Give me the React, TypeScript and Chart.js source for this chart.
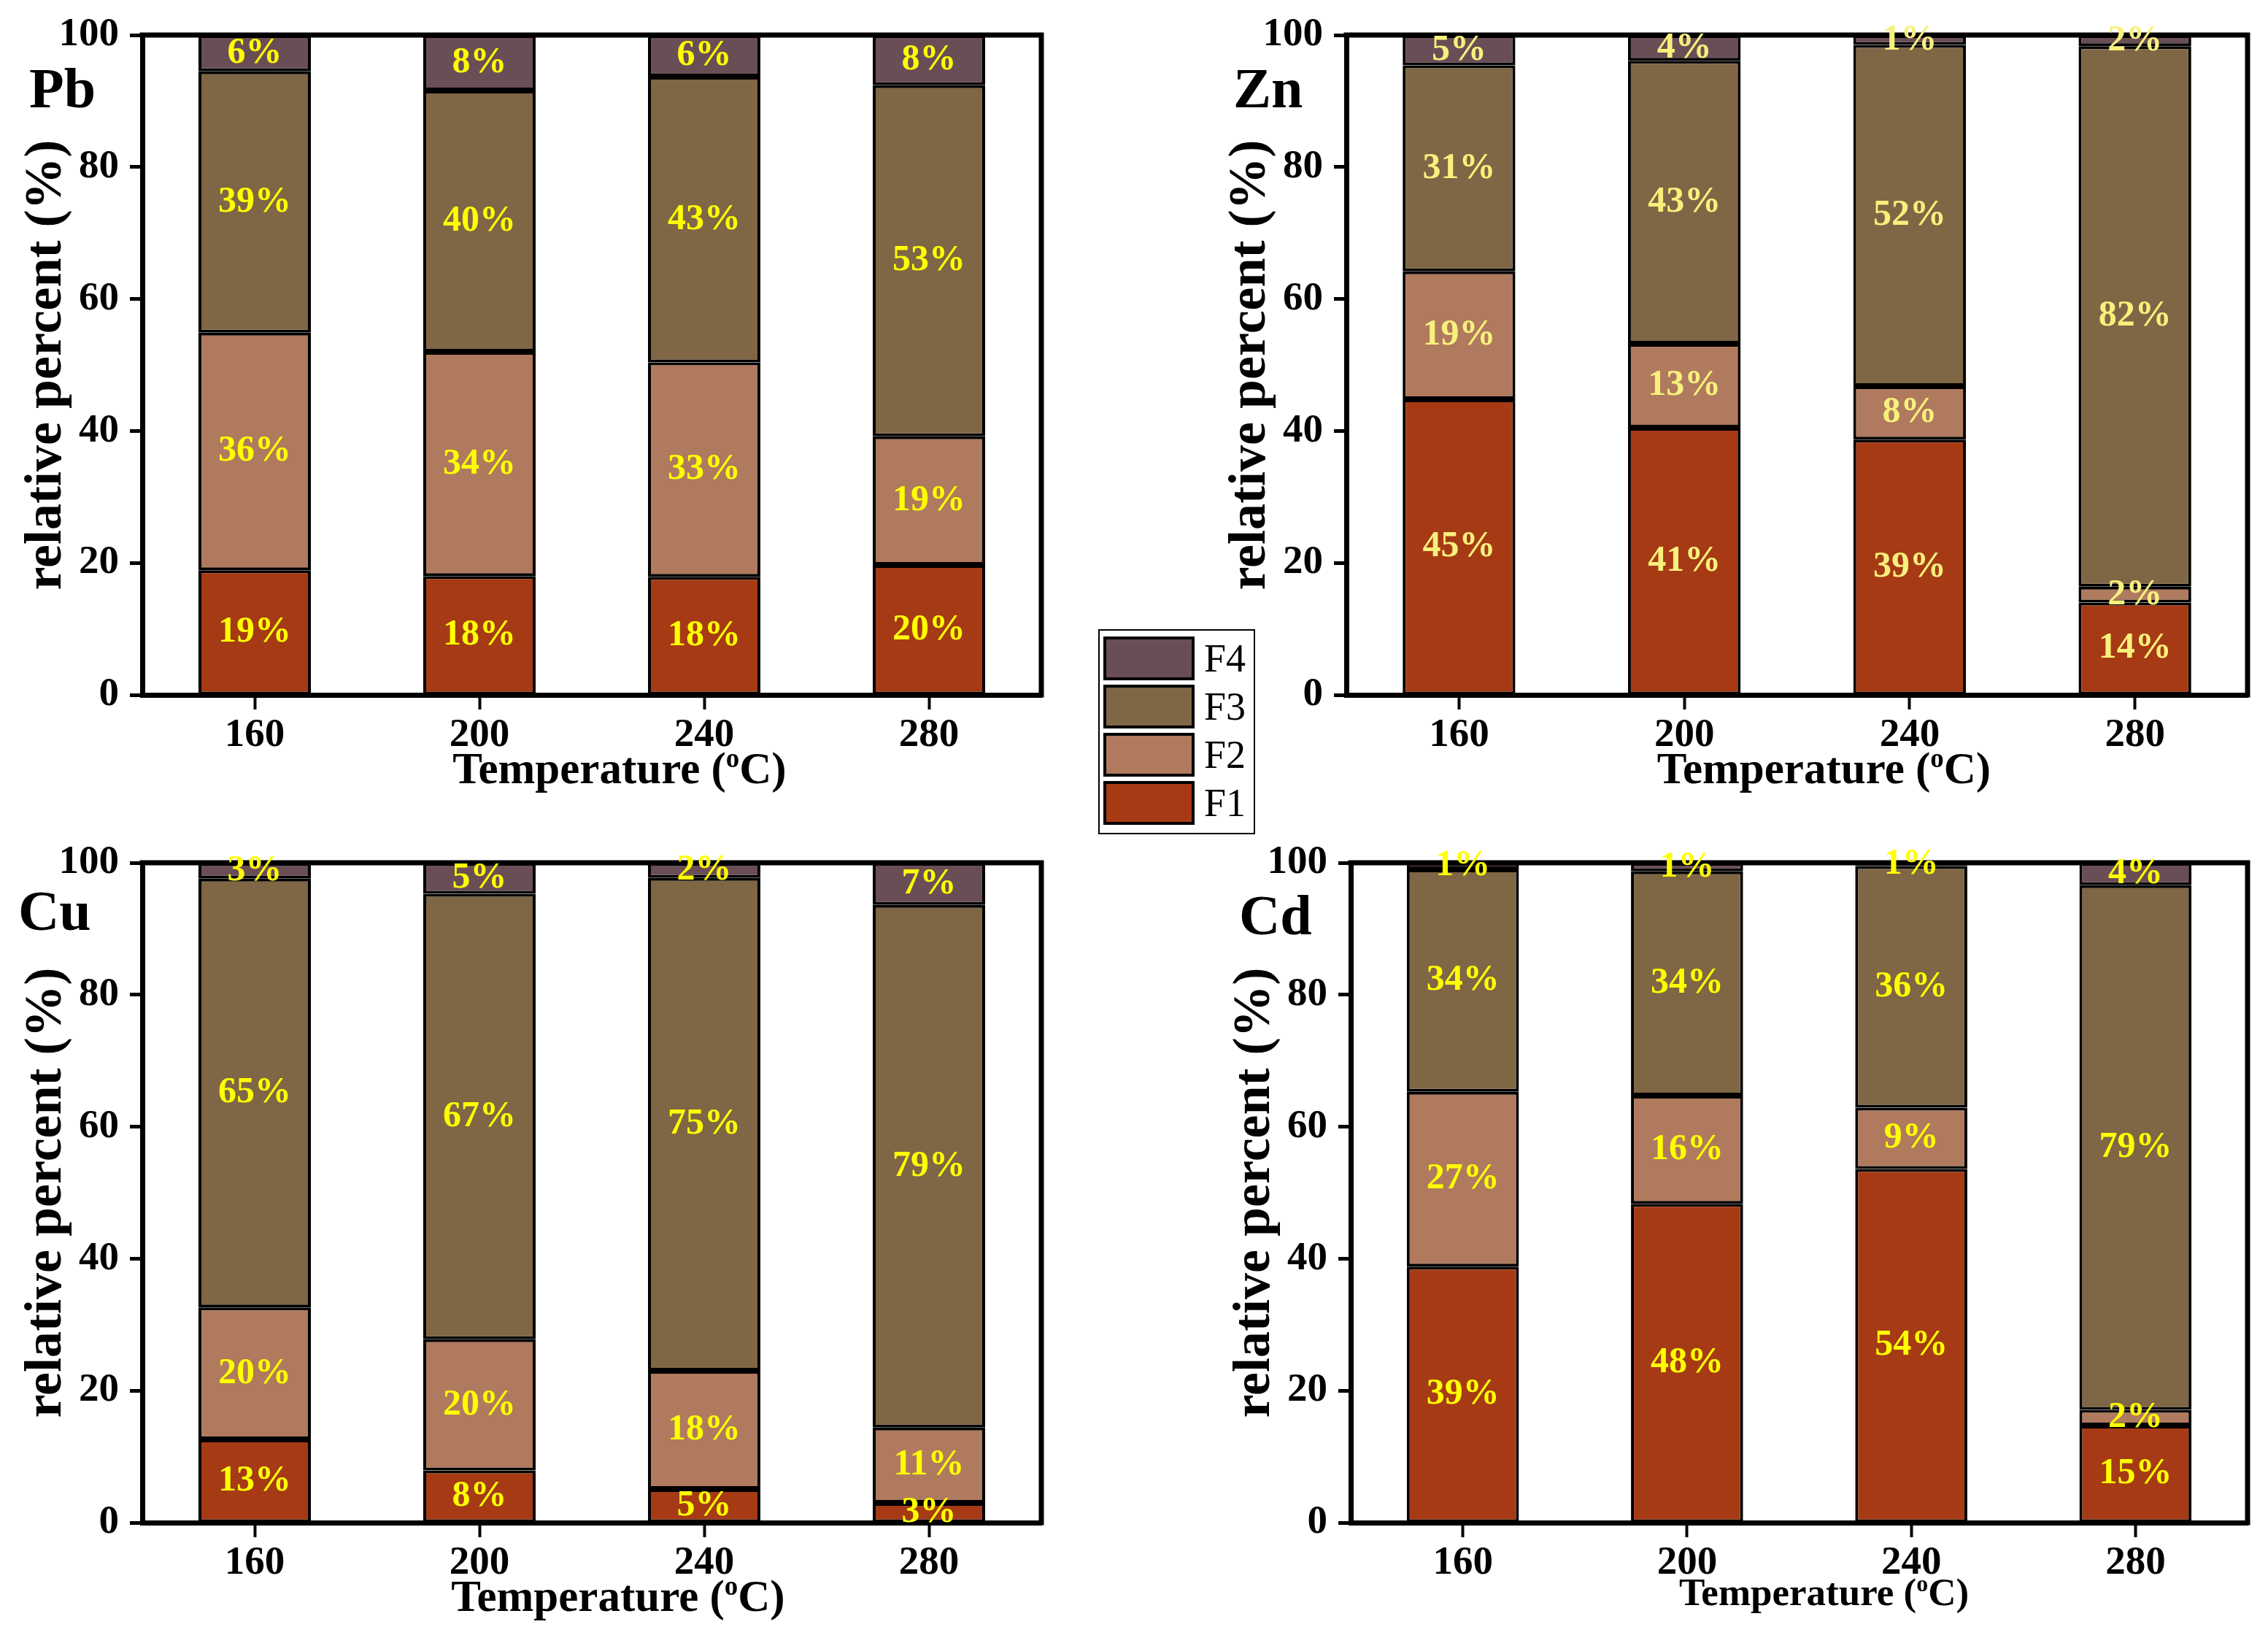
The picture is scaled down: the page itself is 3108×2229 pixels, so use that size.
import { useEffect, useRef } from "react";
import { Chart, registerables } from "chart.js";

Chart.register(...registerables);

const temperatures = ["160", "200", "240", "280"];
const fractionNames = ["F1", "F2", "F3", "F4"];
const fractionColors = ["#A63A15", "#B07A5E", "#7F6645", "#6A4E56"];

// Pb
const pbF1 = [18.9, 18.0, 17.9, 19.7];
const pbF2 = [36.0, 34.0, 32.5, 19.5];
const pbF3 = [39.6, 39.6, 43.3, 53.2];
const pbF4 = [5.5, 8.4, 6.3, 7.6];
const pbText = [
  ["19%", "18%", "18%", "20%"],
  ["36%", "34%", "33%", "19%"],
  ["39%", "40%", "43%", "53%"],
  ["6%", "8%", "6%", "8%"],
];

// Zn
const znF1 = [44.8, 40.5, 38.7, 14.0];
const znF2 = [19.4, 12.7, 8.1, 2.4];
const znF3 = [31.2, 42.9, 51.7, 81.9];
const znF4 = [4.6, 3.9, 1.5, 1.7];
const znText = [
  ["45%", "41%", "39%", "14%"],
  ["19%", "13%", "8%", "2%"],
  ["31%", "43%", "52%", "82%"],
  ["5%", "4%", "1%", "2%"],
];

// Cu
const cuF1 = [12.6, 7.9, 5.1, 3.0];
const cuF2 = [20.0, 19.9, 17.9, 11.4];
const cuF3 = [65.0, 67.5, 74.7, 79.2];
const cuF4 = [2.4, 4.7, 2.3, 6.4];
const cuText = [
  ["13%", "8%", "5%", "3%"],
  ["20%", "20%", "18%", "11%"],
  ["65%", "67%", "75%", "79%"],
  ["3%", "5%", "2%", "7%"],
];

// Cd
const cdF1 = [38.8, 48.3, 53.6, 14.7];
const cdF2 = [26.5, 16.4, 9.3, 2.4];
const cdF3 = [33.7, 34.0, 36.6, 79.5];
const cdF4 = [1.0, 1.3, 0.5, 3.4];
const cdText = [
  ["39%", "48%", "54%", "15%"],
  ["27%", "16%", "9%", "2%"],
  ["34%", "34%", "36%", "79%"],
  ["1%", "1%", "1%", "4%"],
];

const yTicks = [0, 20, 40, 60, 80, 100];

const SERIF = "'Liberation Serif', 'Times New Roman', serif";

type PanelDef = {
  name: string;
  series: number[][];
  texts: string[][];
  labelColor: string;
  left: number;
  top: number;
  width: number;
  height: number;
  padRight: number;
  tagDx: number;
  tagDy: number;
  xTitleSize: number;
  xTitleDx: number;
  xTitleDy: number;
};

const panels: PanelDef[] = [
  {
    name: "Pb", series: [pbF1, pbF2, pbF3, pbF4], texts: pbText, labelColor: "#FFFF00",
    left: 0, top: 0, width: 1477, height: 1094, padRight: 50,
    tagDx: -155, tagDy: 99, xTitleSize: 61, xTitleDx: 38, xTitleDy: 121,
  },
  {
    name: "Zn", series: [znF1, znF2, znF3, znF4], texts: znText, labelColor: "#F8F07C",
    left: 1650, top: 0, width: 1450, height: 1094, padRight: 20,
    tagDx: -155, tagDy: 99, xTitleSize: 61, xTitleDx: 37, xTitleDy: 121,
  },
  {
    name: "Cu", series: [cuF1, cuF2, cuF3, cuF4], texts: cuText, labelColor: "#FFFF00",
    left: 0, top: 1134, width: 1477, height: 1094, padRight: 50,
    tagDx: -170, tagDy: 92, xTitleSize: 61, xTitleDx: 36, xTitleDy: 121,
  },
  {
    name: "Cd", series: [cdF1, cdF2, cdF3, cdF4], texts: cdText, labelColor: "#FFFF00",
    left: 1656, top: 1134, width: 1444, height: 1094, padRight: 20,
    tagDx: -153, tagDy: 98, xTitleSize: 53, xTitleDx: 34, xTitleDy: 113,
  },
];

// black frame on the top and right of the plot area
const framePlugin = {
  id: "frame",
  afterDatasetsDraw(chart: any) {
    const { ctx, chartArea: a } = chart;
    ctx.save();
    ctx.strokeStyle = "#000";
    ctx.lineWidth = 7;
    ctx.lineCap = "square";
    ctx.beginPath();
    ctx.moveTo(a.left, a.top);
    ctx.lineTo(a.right, a.top);
    ctx.lineTo(a.right, a.bottom);
    ctx.stroke();
    ctx.restore();
  },
};

// percentage text in the middle of each stacked segment
const segLabelPlugin = {
  id: "segLabels",
  afterDraw(chart: any, _args: any, opts: any) {
    const { ctx } = chart;
    ctx.save();
    ctx.font = `bold 50px ${SERIF}`;
    ctx.fillStyle = opts.color;
    ctx.textAlign = "center";
    ctx.textBaseline = "middle";
    chart.data.datasets.forEach((_ds: any, i: number) => {
      const meta = chart.getDatasetMeta(i);
      meta.data.forEach((bar: any, j: number) => {
        const { x, y, base } = bar.getProps(["x", "y", "base"], true);
        ctx.fillText(opts.texts[i][j], x, (y + base) / 2);
      });
    });
    ctx.restore();
  },
};

// element name in the upper-left corner
const tagPlugin = {
  id: "tag",
  afterDraw(chart: any, _args: any, opts: any) {
    const { ctx, chartArea } = chart;
    ctx.save();
    ctx.font = `bold 78px ${SERIF}`;
    ctx.fillStyle = "#000";
    ctx.textAlign = "left";
    ctx.textBaseline = "alphabetic";
    ctx.fillText(opts.text, chartArea.left + opts.dx, chartArea.top + opts.dy);
    ctx.restore();
  },
};

// x-axis title "Temperature (oC)" with a raised small o
const xTitlePlugin = {
  id: "xTitle",
  afterDraw(chart: any, _args: any, opts: any) {
    const { ctx, chartArea: a } = chart;
    const size = opts.size;
    const main = `bold ${size}px ${SERIF}`;
    const sup = `bold ${Math.round(size * 0.6)}px ${SERIF}`;
    const parts = [
      { t: "Temperature (", f: main, rise: 0 },
      { t: "o", f: sup, rise: size * 0.36 },
      { t: "C)", f: main, rise: 0 },
    ];
    ctx.save();
    ctx.fillStyle = "#000";
    ctx.textAlign = "left";
    ctx.textBaseline = "alphabetic";
    const widths = parts.map((p) => {
      ctx.font = p.f;
      return ctx.measureText(p.t).width;
    });
    const total = widths.reduce((s, w) => s + w, 0);
    let x = (a.left + a.right) / 2 + opts.dx - total / 2;
    const y = a.bottom + opts.dy;
    parts.forEach((p, i) => {
      ctx.font = p.f;
      ctx.fillText(p.t, x, y - p.rise);
      x += widths[i];
    });
    ctx.restore();
  },
};

const Panel = ({ p }: { p: PanelDef }) => {
  const canvasRef = useRef<HTMLCanvasElement | null>(null);

  useEffect(() => {
    if (!canvasRef.current) return;
    const chart = new Chart(canvasRef.current, {
      type: "bar",
      data: {
        labels: temperatures,
        datasets: p.series.map((values, i) => ({
          label: fractionNames[i],
          data: values,
          backgroundColor: fractionColors[i],
          borderColor: "#000",
          borderWidth: 4,
          borderSkipped: false,
          barPercentage: 0.5,
          categoryPercentage: 1,
          stack: "s",
        })),
      },
      options: {
        responsive: false,
        animation: false,
        events: [],
        layout: { padding: { top: 48, right: p.padRight, left: 0, bottom: 0 } },
        plugins: {
          legend: { display: false },
          tooltip: { enabled: false },
          segLabels: { texts: p.texts, color: p.labelColor },
          tag: { text: p.name, dx: p.tagDx, dy: p.tagDy },
          xTitle: { size: p.xTitleSize, dx: p.xTitleDx, dy: p.xTitleDy },
        } as any,
        scales: {
          x: {
            stacked: true,
            offset: true,
            afterFit: (s: any) => {
              s.height = 142;
            },
            grid: {
              display: true,
              offset: false,
              drawOnChartArea: false,
              drawTicks: true,
              tickLength: 20,
              tickWidth: 4,
              color: "#000",
              tickColor: "#000",
            },
            border: { display: true, color: "#000", width: 7, z: 1 },
            ticks: {
              color: "#000",
              font: { family: SERIF, weight: "bold", size: 55 },
              padding: 3,
              maxRotation: 0,
            },
          },
          y: {
            stacked: true,
            min: yTicks[0],
            max: yTicks[yTicks.length - 1],
            afterFit: (s: any) => {
              s.width = 195;
            },
            afterBuildTicks: (s: any) => {
              s.ticks = yTicks.map((v) => ({ value: v }));
            },
            grid: {
              display: true,
              drawOnChartArea: false,
              drawTicks: true,
              tickLength: 17,
              tickWidth: 5,
              color: "#000",
              tickColor: "#000",
            },
            border: { display: true, color: "#000", width: 7, z: 1 },
            ticks: {
              color: "#000",
              font: { family: SERIF, weight: "bold", size: 55 },
              padding: 15,
            },
            title: {
              display: true,
              text: "relative percent (%)",
              color: "#000",
              font: { family: SERIF, weight: "bold", size: 72 },
              padding: { top: 21, bottom: 0 },
            },
          },
        },
      },
      plugins: [framePlugin, segLabelPlugin, tagPlugin, xTitlePlugin],
    });
    return () => {
      chart.destroy();
    };
  }, [p]);

  return (
    <canvas
      ref={canvasRef}
      width={p.width}
      height={p.height}
      style={{ position: "absolute", left: p.left, top: p.top, width: p.width, height: p.height }}
    />
  );
};

const Legend = () => (
  <div
    style={{
      position: "absolute",
      left: 1505,
      top: 862,
      width: 211,
      height: 277,
      border: "2px solid #000",
      background: "#fff",
    }}
  >
    {[3, 2, 1, 0].map((idx, row) => (
      <div key={fractionNames[idx]} style={{ position: "absolute", left: 5, top: 8 + row * 66, height: 60, width: 200 }}>
        <div
          style={{
            position: "absolute",
            left: 0,
            top: 0,
            width: 117,
            height: 52,
            border: "4px solid #000",
            background: fractionColors[idx],
          }}
        />
        <div
          style={{
            position: "absolute",
            left: 138,
            top: 0,
            height: 60,
            lineHeight: "60px",
            fontFamily: SERIF,
            fontSize: 54,
            color: "#000",
          }}
        >
          {fractionNames[idx]}
        </div>
      </div>
    ))}
  </div>
);

export default function App() {
  return (
    <div style={{ position: "absolute", left: 0, top: 0, width: 3108, height: 2229, background: "#fff", overflow: "hidden" }}>
      {panels.map((p) => (
        <Panel key={p.name} p={p} />
      ))}
      <Legend />
    </div>
  );
}
